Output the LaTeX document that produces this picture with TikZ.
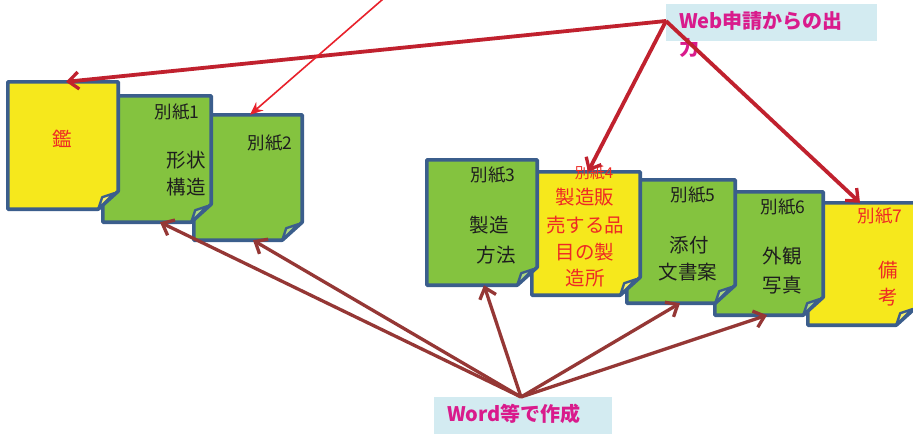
\documentclass[tikz,border=0pt]{standalone}
\usepackage{fontspec}
\setmainfont{Noto Sans CJK JP}
\usetikzlibrary{arrows.meta}
\definecolor{pageblue}{HTML}{3B5E8C}
\definecolor{pagegreen}{HTML}{84C33F}
\definecolor{pageyellow}{HTML}{F6E81C}
\definecolor{webred}{HTML}{C0212E}
\definecolor{thinred}{HTML}{E8212B}
\definecolor{wordbrown}{HTML}{953735}
\definecolor{labelpink}{HTML}{D91B8C}
\definecolor{labelblue}{HTML}{D3EBF1}
\definecolor{darktext}{HTML}{1E1E1E}
\definecolor{redtext}{HTML}{EE2A24}
\tikzset{
  pagebox/.style={rectangle,draw=none,inner sep=0pt},
  pageline/.style={draw=pageblue,line width=3.6pt,line join=round},
  bodytext/.style={text=darktext,font=\fontsize{19.5}{22}\selectfont,inner sep=0pt},
  redbody/.style={text=redtext,font=\fontsize{19.5}{22}\selectfont,inner sep=0pt},
  tagtext/.style={text=darktext,font=\fontsize{17.5}{20}\selectfont,inner sep=0pt},
  webarrow/.style={draw=webred,line width=3.8pt,-{Straight Barb[length=10pt,width=17pt,line width=3.3pt]}},
  thinarrow/.style={draw=thinred,line width=1.6pt,-{Stealth[length=13pt,width=11pt]}},
  wordarrow/.style={draw=wordbrown,line width=3.3pt,-{Straight Barb[length=10pt,width=17pt,line width=3.3pt]}},
  labelbox/.style={rectangle,fill=labelblue,draw=none,inner sep=0pt},
  labeltext/.style={text=labelpink,font=\fontsize{20}{27}\selectfont\bfseries,inner sep=0pt,align=left},
}
\newcommand\foldpage[2]{%
  \path[pageline,fill=#2] (#1.north west) -- (#1.north east) -- ([yshift=18pt]#1.south east)
     -- ([xshift=-20pt]#1.south east) -- (#1.south west) -- cycle;
  \path[draw=pageblue,line width=2.4pt,line join=round,fill=#2!65!white]
     ([xshift=-20pt]#1.south east) -- ([xshift=-16pt,yshift=12pt]#1.south east)
     -- ([xshift=-4pt,yshift=16pt]#1.south east) -- cycle;
}
\begin{document}
\begin{tikzpicture}[x=1pt,y=-1pt]
\useasboundingbox (0,0) rectangle (913,434);
\clip (0,0) rectangle (913,434);
\fill[white] (0,0) rectangle (913,434);

% left group (drawn right to left)
\node[pagebox,minimum width=108pt,minimum height=125pt] (b2) at (248,177.5) {};
\foldpage{b2}{pagegreen}
\node[tagtext] (b2t) at (270,143) {別紙2};

\node[pagebox,minimum width=108pt,minimum height=126pt] (b1) at (157,159) {};
\foldpage{b1}{pagegreen}
\node[tagtext] (b1t) at (177,112) {別紙1};
\node[bodytext] (b1a) at (186,160) {形状};
\node[bodytext] (b1b) at (186,187) {構造};

\node[pagebox,minimum width=110pt,minimum height=127pt] (kan) at (63,145.5) {};
\foldpage{kan}{pageyellow}
\node[redbody] (kant) at (62,139) {鑑};

% right group (drawn right to left)
\node[pagebox,minimum width=108pt,minimum height=122pt] (b7) at (862,264) {};
\foldpage{b7}{pageyellow}
\node[tagtext,text=redtext] (b7t) at (880,216) {別紙7};
\node[redbody] (b7a) at (888,270) {備};
\node[redbody] (b7b) at (888,297) {考};

\node[pagebox,minimum width=108pt,minimum height=123pt] (b6) at (769,253.5) {};
\foldpage{b6}{pagegreen}
\node[tagtext] (b6t) at (783,207) {別紙6};
\node[bodytext] (b6a) at (782,256) {外観};
\node[bodytext] (b6b) at (782,285) {写真};

\node[pagebox,minimum width=108pt,minimum height=123pt] (b5) at (681,241.5) {};
\foldpage{b5}{pagegreen}
\node[tagtext] (b5t) at (693,195) {別紙5};
\node[bodytext] (b5a) at (689,245) {添付};
\node[bodytext] (b5b) at (688,272) {文書案};

\node[pagebox,minimum width=108pt,minimum height=123pt] (b4) at (586,233.5) {};
\foldpage{b4}{pageyellow}
\node[tagtext,text=redtext,font=\fontsize{15}{17}\selectfont] (b4t) at (594,173) {別紙4};
\node[redbody] (b4a) at (585,197) {製造販};
\node[redbody] (b4b) at (585,225) {売する品};
\node[redbody] (b4c) at (585,252) {目の製};
\node[redbody] (b4d) at (585,278) {造所};

\node[pagebox,minimum width=110pt,minimum height=125pt] (b3) at (482,222.5) {};
\foldpage{b3}{pagegreen}
\node[tagtext] (b3t) at (493,175) {別紙3};
\node[bodytext] (b3a) at (489,225) {製造};
\node[bodytext] (b3b) at (496,255) {方法};

% labels
\node[labelbox,minimum width=211pt,minimum height=37pt] (webbox) at (771.5,22.5) {};
\node[labeltext,anchor=north west] (webtext) at (679,11) {Web申請からの出\\力};
\node[labelbox,minimum width=178pt,minimum height=37pt] (wordbox) at (523,415.5) {};
\node[labeltext,anchor=west] (wordtext) at (447,414) {Word等で作成};

\coordinate (web) at (666,21);
\coordinate (word) at (521,397);
\coordinate (thinstart) at (398,-14);

% arrows
\draw[webarrow] (web) -- ([xshift=3pt]kan.north);
\draw[webarrow] (web) -- ([xshift=2pt]b4.north);
\draw[webarrow] (web) -- ([xshift=-2pt]b7.north);
\draw[thinarrow] (thinstart) -- ([xshift=2pt]b2.north);
\draw[wordarrow] (word) -- ([xshift=3pt]b1.south);
\draw[wordarrow] (word) -- ([xshift=5pt]b2.south);
\draw[wordarrow] (word) -- ([xshift=2pt]b3.south);
\draw[wordarrow] (word) -- ([xshift=-1pt]b5.south);
\draw[wordarrow] (word) -- ([xshift=-2pt]b6.south);
\end{tikzpicture}
\end{document}
